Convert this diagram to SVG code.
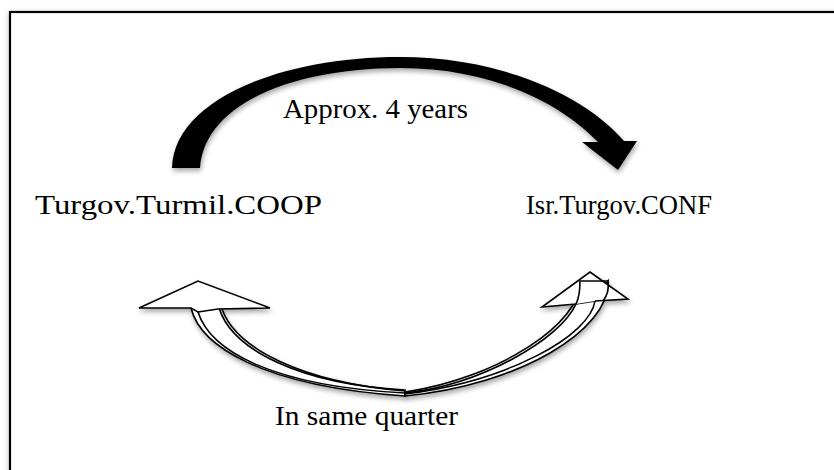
<svg xmlns="http://www.w3.org/2000/svg" width="834" height="470" viewBox="0 0 834 470">
<defs>
<filter id="sh" x="-20%" y="-20%" width="140%" height="150%">
<feDropShadow dx="1" dy="3" stdDeviation="2.5" flood-color="#000" flood-opacity="0.35"/>
</filter>
<filter id="shf" x="-5%" y="-5%" width="110%" height="110%">
<feDropShadow dx="0" dy="2" stdDeviation="3" flood-color="#000" flood-opacity="0.25"/>
</filter>
</defs>
<style>
.lbl{font-family:"Liberation Serif","DejaVu Serif",serif;font-size:28px;fill:#000}
.out{fill:#fff;stroke:#000;stroke-width:1.6;stroke-linejoin:miter}
.ln{fill:none;stroke:#000;stroke-width:1.6}
</style>
<rect width="834" height="470" fill="#fff"/>
<rect x="10" y="12" width="840" height="480" fill="#fff" stroke="#000" stroke-width="2.2" filter="url(#shf)"/>

<g id="connectors">
<g id="top-arrow" filter="url(#sh)">
<path d="M172,168 C174,100 280,57 400,57 C500,57 585,95 624,141 L637,141 L618,170 L582,142 L598,142 C560,102 490,68 400,68 C300,68 205,100 200,168 Z" fill="#000"/>
</g>
<g id="left-arrow" filter="url(#sh)">
<path class="out" d="M191,308 C200,345 260,386 405,396 L405,390 C300,384 232,350 219,308 Z"/>
<path class="ln" d="M198,312 C210,350 270,386 405,393"/>
<path class="ln" d="M222,309 C236,348 300,382 405,391"/>
<path class="out" d="M198,312 L218,309 L270,308 L198,281 L139,308 L191,308 Z"/>
</g>
<g id="right-arrow" filter="url(#sh)">
<path class="out" d="M576,304 C560,340 480,385 405,393 L405,396 C520,385 610,330 608,281 L595,301 Z"/>
<path class="ln" d="M580,281 C582,322 500,378 405,392"/>
<path class="ln" d="M595,301 C590,335 510,381 405,394"/>
<path class="out" d="M576,304 L542,307 L590,272 L628,299 L595,301"/>
<path class="ln" d="M576,304 C580,296 580,288 580,281 L608,281 C609,288 607,296 603,301"/>
</g>
</g>

<g id="node-coop"><text class="lbl" x="35" y="214" textLength="287" lengthAdjust="spacingAndGlyphs">Turgov.Turmil.COOP</text></g>
<g id="node-conf"><text class="lbl" x="526" y="214" textLength="186" lengthAdjust="spacingAndGlyphs">Isr.Turgov.CONF</text></g>
<g id="label-years"><text class="lbl" x="283" y="118" textLength="185" lengthAdjust="spacingAndGlyphs">Approx. 4 years</text></g>
<g id="label-quarter"><text class="lbl" x="275" y="425" textLength="183" lengthAdjust="spacingAndGlyphs">In same quarter</text></g>
</svg>
